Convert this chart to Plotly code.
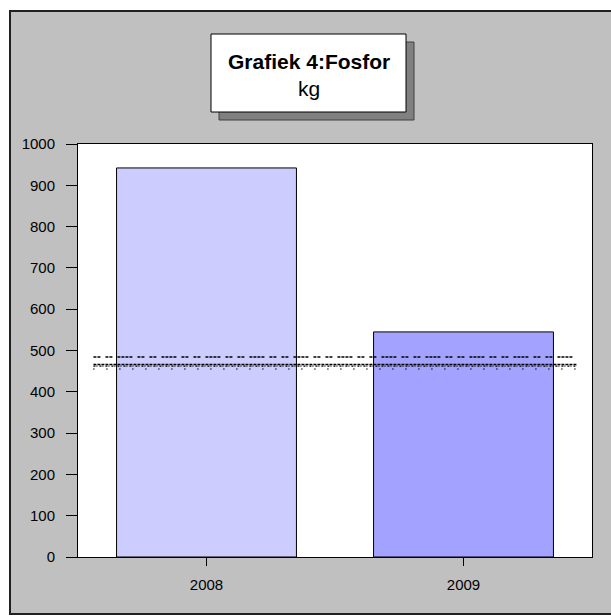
import plotly.graph_objects as go

# ---- data ----
years = ["2008", "2009"]
phosphor_kg = [942, 545]
bar_colors = ["#ccccff", "#a3a3ff"]
ref_levels = [484, 466, 462, 455]
ref_dashes = ["3px,1px,3px,5px,3px,1px,3px,5px,3px,1px,3px,1px,3px,1px,3px,5px",
              "3px,1px", "2px,1px,1px,2px", "1px,12px"]
ref_widths = [1.5, 1.5, 1.2, 1.5]
y_ticks = list(range(0, 1001, 100))
title_main = "Grafiek 4:Fosfor"
title_unit = "kg"

W, H = 611, 616
L, R, T, B = 78, 19, 144, 59
PW, PH = W - L - R, H - T - B


def px(xp):
    return (xp - L) / PW


def py(yp):
    return (H - B - yp) / PH


xpos = list(range(len(years)))

fig = go.Figure()
fig.add_trace(go.Bar(
    x=xpos, y=phosphor_kg, width=0.7,
    marker=dict(color=bar_colors, line=dict(color="black", width=1)),
    showlegend=False, hoverinfo="x+y",
))
for lvl, dsh, wd in zip(ref_levels, ref_dashes, ref_widths):
    fig.add_trace(go.Scatter(
        x=[-0.44, 1.44], y=[lvl, lvl], mode="lines",
        line=dict(color="black", width=wd, dash=dsh),
        showlegend=False, hoverinfo="y",
    ))

shapes = [
    # outer gray frame
    dict(type="rect", xref="paper", yref="paper", layer="below",
         x0=px(10), x1=px(700), y0=py(614), y1=py(11),
         fillcolor="#c0c0c0", line=dict(color="#202020", width=2)),
    # plot area white
    dict(type="rect", xref="paper", yref="paper", layer="below",
         x0=0, x1=1, y0=0, y1=1, fillcolor="white", line=dict(width=0)),
    # title shadow
    dict(type="rect", xref="paper", yref="paper",
         x0=px(219), x1=px(414), y0=py(120), y1=py(42),
         fillcolor="#808080", line=dict(color="#404040", width=1)),
    # title box
    dict(type="rect", xref="paper", yref="paper",
         x0=px(211), x1=px(406), y0=py(112), y1=py(34),
         fillcolor="white", line=dict(color="black", width=1)),
]

annotations = [
    dict(text="<b>%s</b>" % title_main, xref="paper", yref="paper",
         x=px(309), y=py(62), xanchor="center", yanchor="middle", showarrow=False,
         font=dict(family="Liberation Sans, Arial", size=21, color="black")),
    dict(text=title_unit, xref="paper", yref="paper",
         x=px(309), y=py(89), xanchor="center", yanchor="middle", showarrow=False,
         font=dict(family="Liberation Sans, Arial", size=21, color="black")),
]

fig.update_layout(
    width=W, height=H,
    margin=dict(l=L, r=R, t=T, b=B, pad=0),
    paper_bgcolor="white", plot_bgcolor="white",
    shapes=shapes, annotations=annotations,
    font=dict(family="Liberation Sans, Arial", size=15, color="black"),
    bargap=0.3,
    xaxis=dict(range=[-0.5, 1.5], tickvals=xpos, ticktext=years,
               showgrid=False, zeroline=False, showline=True, linecolor="black",
               linewidth=1, mirror=True, ticks="outside", ticklen=8,
               tickcolor="black", ticklabelstandoff=6, fixedrange=True),
    yaxis=dict(range=[0, 1000], tickvals=y_ticks, showgrid=False, zeroline=False,
               showline=True, linecolor="black", linewidth=1, mirror=True,
               ticks="outside", ticklen=11, tickcolor="black",
               ticklabelstandoff=8, fixedrange=True),
)

fig.write_html("out.html", config={"displayModeBar": False},
               post_script="document.body.style.margin='0';document.body.style.overflow='hidden';")
